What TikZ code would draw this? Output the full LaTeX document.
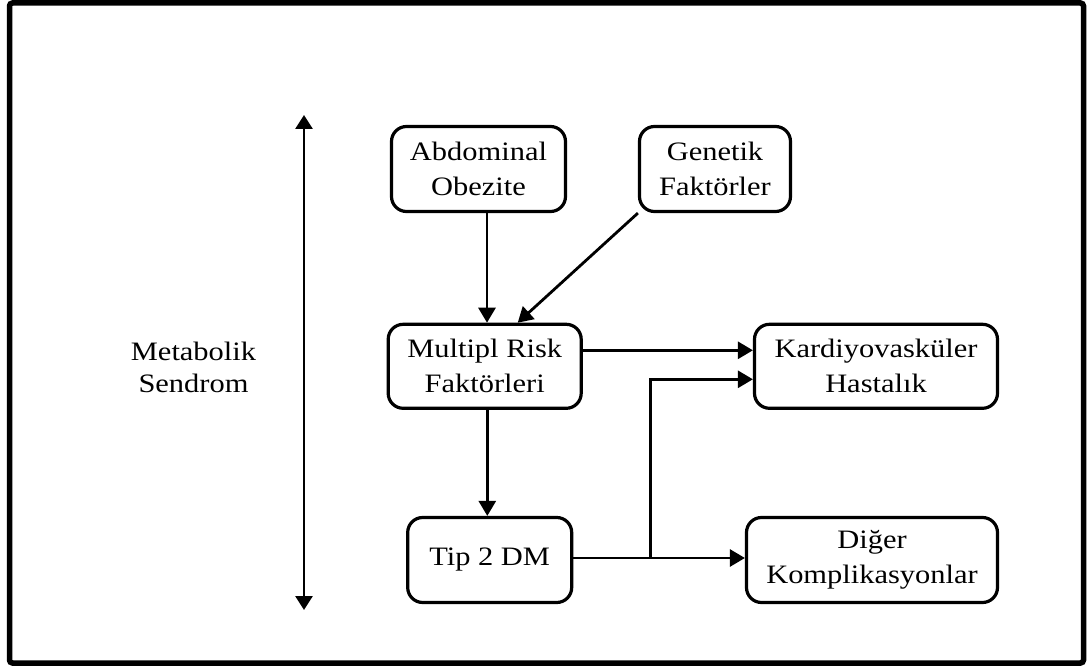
\documentclass[tikz,border=0pt]{standalone}
\usepackage{fontspec}
\setmainfont{Liberation Serif}[FakeStretch=1.145]
\usetikzlibrary{arrows.meta,calc}
\begin{document}
\begin{tikzpicture}[x=1pt,y=-1pt,
  box/.style={draw,line width=3.2pt,rounded corners=15pt,inner sep=0pt,align=center,
    font={\fontsize{26.6}{35}\selectfont}},
  arr/.style={line width=2.8pt,-{Triangle[length=15pt,width=17pt]}},
  dbl/.style={line width=2.8pt,{Triangle[length=14pt,width=17pt]}-{Triangle[length=14pt,width=17pt]}}]
\useasboundingbox (0,0) rectangle (1088,666);
\draw[line width=5.5pt,rounded corners=3pt] (9.5,3) rectangle (1083.5,663);
% nodes
\node[box,minimum width=174pt,minimum height=85pt] (abd) at (478.5,169) {Abdominal\\Obezite};
\node[box,minimum width=151pt,minimum height=85pt] (gen) at (715,169) {Genetik\\Faktörler};
\node[box,minimum width=193pt,minimum height=84pt] (multi) at (484.7,366.3) {Multipl Risk\\Faktörleri};
\node[box,minimum width=243pt,minimum height=84pt] (kar) at (876,366.3) {Kardiyovasküler\\Hastalık};
\node[box,minimum width=164pt,minimum height=85pt] (tip) at (489.7,560) {Tip 2 DM};
\node[box,minimum width=251pt,minimum height=85pt] (dig) at (872,560) {Diğer\\Komplikasyonlar};
\node[align=center,inner sep=0pt,font={\fontsize{26.6}{32}\selectfont}] (met) at (193.5,367) {Metabolik\\Sendrom};
% vertical double arrow
\coordinate (vtop) at (304,115);
\coordinate (vbot) at (304,610);
\draw[dbl] (vtop) -- (vbot);
% connectors
\draw[arr] ([xshift=8.5pt]abd.south) -- ([xshift=8.5pt]abd.south |- multi.north);
\draw[arr] (gen.south west) -- ([xshift=33pt]multi.north);
\draw[arr] ([yshift=16pt]multi.east) -- ([yshift=16pt]multi.east -| kar.west);
\draw[arr] ([xshift=2.6pt]multi.south) -- ([xshift=2.6pt]multi.south |- tip.north);
\draw[arr] ([yshift=2pt]tip.east) -- ([yshift=2pt]tip.east -| dig.west);
\coordinate (j) at (650.7,558);
\draw[arr] (j) |- ([yshift=-13pt]kar.west);
\end{tikzpicture}
\end{document}
